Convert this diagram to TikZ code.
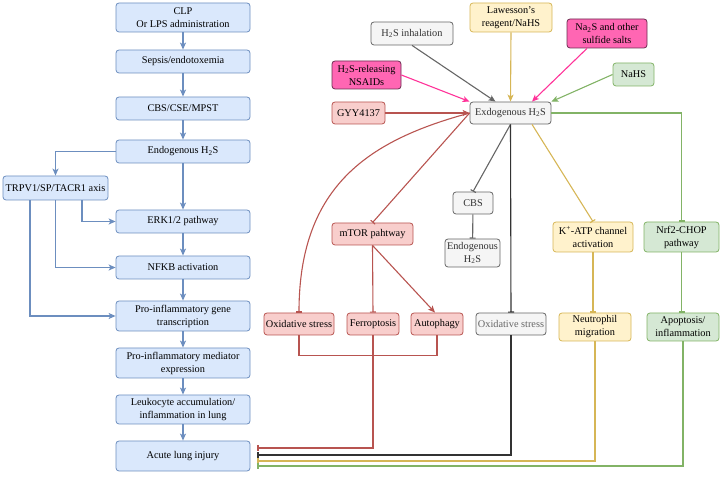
\documentclass[tikz,border=0pt]{standalone}
\usepackage{fontspec}
\setmainfont{Liberation Serif}
\usetikzlibrary{arrows.meta}

\definecolor{bfill}{HTML}{DAE8FC}
\definecolor{bline}{HTML}{6C8EBF}
\definecolor{gfill}{HTML}{F5F5F5}
\definecolor{gline}{HTML}{666666}
\definecolor{dline}{HTML}{333333}
\definecolor{yfill}{HTML}{FFF2CC}
\definecolor{yline}{HTML}{D6B656}
\definecolor{rfill}{HTML}{F8CECC}
\definecolor{rline}{HTML}{B85450}
\definecolor{nfill}{HTML}{D5E8D4}
\definecolor{nline}{HTML}{82B366}
\definecolor{pfill}{HTML}{FF66B3}
\definecolor{pline}{HTML}{6B2D50}
\definecolor{parrow}{HTML}{FF3399}

\begin{document}
\begin{tikzpicture}[x=1pt,y=-1pt,
    box/.style={rounded corners=3pt, align=center, inner sep=1pt, line width=0.8pt,
      font=\fontsize{10.3}{13}\selectfont, minimum height=22},
    bluebox/.style={box, fill=bfill, draw=bline, minimum width=134, minimum height=23},
    graybox/.style={box, fill=gfill, draw=gline, text=dline},
    yellowbox/.style={box, fill=yfill, draw=yline},
    redbox/.style={box, fill=rfill, draw=rline},
    greenbox/.style={box, fill=nfill, draw=nline},
    pinkbox/.style={box, fill=pfill, draw=pline},
    tip/.style={-{Stealth[length=7pt,width=6pt,inset=1.8pt]}},
    stop/.style={-{Bar[width=6pt]}},
    flow/.style={draw=bline, line width=1.2pt, tip},
    feed/.style={line width=1.1pt, tip},
    block/.style={line width=1.1pt, stop}]
\useasboundingbox (0,0) rectangle (724,478);

% left column
\node[bluebox, minimum height=29] (clp) at (183,17.5) {CLP\\Or LPS administration};
\node[bluebox] (sepsis) at (183,61.5) {Sepsis/endotoxemia};
\node[bluebox] (cse) at (183,108.5) {CBS/CSE/MPST};
\node[bluebox] (endo) at (183,151.5) {Endogenous H\textsubscript{2}S};
\node[bluebox, minimum width=105, minimum height=24] (trpv) at (55.5,188) {TRPV1/SP/TACR1 axis};
\node[bluebox] (erk) at (183,221.5) {ERK1/2 pathway};
\node[bluebox] (nfkb) at (183,267.5) {NFKB activation};
\node[bluebox, minimum height=30] (gene) at (183,316) {Pro-inflammatory gene\\transcription};
\node[bluebox, minimum height=30] (medi) at (183,363) {Pro-inflammatory mediator\\expression};
\node[bluebox, minimum height=29] (leuko) at (183,409.5) {Leukocyte accumulation/\\inflammation in lung};
\node[bluebox, minimum height=30] (ali) at (183,456) {Acute lung injury};

\draw[flow] (clp) -- (sepsis);
\draw[flow] (sepsis) -- (cse);
\draw[flow] (cse) -- (endo);
\draw[flow] (endo) -- (erk);
\draw[flow] (erk) -- (nfkb);
\draw[flow] (nfkb) -- (gene);
\draw[flow] (gene) -- (medi);
\draw[flow] (medi) -- (leuko);
\draw[flow] (leuko) -- (ali);
\draw[flow] (endo.west) -| (trpv.north);
\draw[flow] ([xshift=26.5pt]trpv.south) |- (erk.west);
\draw[flow] (trpv.south) |- (nfkb.west);
\draw[flow] ([xshift=-25.5pt]trpv.south) |- (gene.west);

% donors
\node[graybox, minimum width=82, minimum height=23] (inh) at (412,33.5) {H\textsubscript{2}S inhalation};
\node[yellowbox, minimum width=82, minimum height=29] (law) at (511,17.5) {Lawesson's\\reagent/NaHS};
\node[pinkbox, minimum width=80, minimum height=29] (na2s) at (607,33.5) {Na\textsubscript{2}S and other\\sulfide salts};
\node[greenbox, minimum width=41, minimum height=23] (nahs) at (633.5,74.5) {NaHS};
\node[pinkbox, minimum width=69, minimum height=28] (nsaid) at (366.5,75) {H\textsubscript{2}S-releasing\\NSAIDs};
\node[redbox, minimum width=53] (gyy) at (358.5,113) {GYY4137};
\node[graybox, minimum width=81] (exo) at (510.5,113) {Exdogenous H\textsubscript{2}S};

\draw[feed, draw=gline] (inh.south) -- ([xshift=-15pt]exo.north);
\draw[feed, draw=yline] (law.south) -- (exo.north);
\draw[feed, draw=parrow] ([xshift=-20pt]na2s.south) -- ([xshift=21.5pt]exo.north);
\draw[feed, draw=nline] (nahs.west) -- (exo.north east);
\draw[feed, draw=parrow] (nsaid.east) -- (exo.north west);
\draw[feed, draw=rline] (gyy.east) -- (exo.west);

% targets
\node[redbox, minimum width=81] (mtor) at (372.5,234) {mTOR pahtway};
\node[graybox, minimum width=40] (cbs) at (473,203) {CBS};
\node[graybox, minimum width=55, minimum height=28] (endob) at (472.5,253) {Endogenous\\H\textsubscript{2}S};
\node[yellowbox, minimum width=80, minimum height=30] (katp) at (593,237) {K\textsuperscript{+}-ATP channel\\activation};
\node[greenbox, minimum width=75, minimum height=30] (nrf) at (681.5,237) {Nrf2-CHOP\\pathway};
\node[redbox, minimum width=70] (oxr) at (299,324) {Oxidative stress};
\node[redbox, minimum width=52] (ferro) at (373,324) {Ferroptosis};
\node[redbox, minimum width=52] (auto) at (437,324) {Autophagy};
\node[graybox, minimum width=70, text=gline] (oxg) at (511,324) {Oxidative stress};
\node[yellowbox, minimum width=72, minimum height=28] (neut) at (595,327) {Neutrophil\\migration};
\node[greenbox, minimum width=72, minimum height=28] (apop) at (683,327) {Apoptosis/\\inflammation};

\draw[block, draw=rline] (exo.west) .. controls (370,140) and (299,185) .. (oxr.north);
\draw[block, draw=rline] (exo.west) -- (mtor.north);
\draw[block, draw=gline] (exo.south) -- (cbs.north);
\draw[block, draw=gline] (cbs) -- (endob);
\draw[block, draw=dline] (exo.south) -- (oxg.north);
\draw[block, draw=yline] ([xshift=21.5pt]exo.south) -- (katp.north);
\draw[block, draw=nline] (exo.east) -| (nrf.north);
\draw[block, draw=rline] (mtor.south) -- (ferro.north);
\draw[feed, draw=rline] (mtor.south) -- ([xshift=-2pt]auto.north);
\draw[block, draw=yline] (katp.south) -- (katp.south |- neut.north);
\draw[block, draw=nline] (nrf.south) -- (nrf.south |- apop.north);

% back to lung injury
\coordinate (hit) at ([xshift=7pt]ali.east);
\draw[line width=1.1pt, draw=rline] (oxr.south) -- ++(0,20) -| (auto.south);
\draw[block, draw=rline] (ferro.south) |- ([yshift=8pt]hit);
\draw[block, draw=dline] (oxg.south) |- ([yshift=1pt]hit);
\draw[block, draw=yline] (neut.south) |- ([yshift=-5pt]hit);
\draw[block, draw=nline] (apop.south) |- ([yshift=-10pt]hit);
\end{tikzpicture}
\end{document}
